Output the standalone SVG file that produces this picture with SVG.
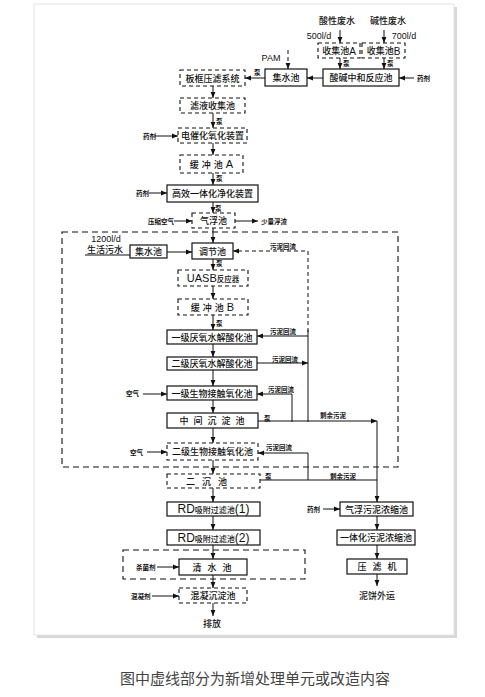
<svg xmlns="http://www.w3.org/2000/svg" width="485" height="697" viewBox="0 0 485 697">
<defs>
<marker id="ah" viewBox="0 0 10 10" refX="10" refY="5" markerWidth="6" markerHeight="6" markerUnits="userSpaceOnUse" orient="auto"><path d="M0,1 L10,5 L0,9 z" fill="#111"/></marker>
<style>
.b{fill:#fff;stroke:#111;stroke-width:1.2}
.d{fill:#fff;stroke:#111;stroke-width:1.1;stroke-dasharray:4,3}
.t{font-family:"Noto Sans CJK SC","Noto Sans CJK JP",sans-serif;font-size:9px;text-anchor:middle;dominant-baseline:central;fill:#111;font-weight:500}
.l{font-family:"Liberation Sans",Arial,sans-serif;font-weight:normal}
.s{font-family:"Noto Sans CJK SC","Noto Sans CJK JP",sans-serif;font-size:6.5px;dominant-baseline:central;fill:#111;font-weight:bold}
.c{stroke:#111;stroke-width:1;fill:none}
.ca{stroke:#111;stroke-width:1;fill:none;marker-end:url(#ah)}
.cd{stroke:#111;stroke-width:1;fill:none;stroke-dasharray:4,3}
</style>
</defs>
<rect x="0" y="0" width="485" height="697" fill="#fff"/>
<rect x="37" y="7" width="420" height="631" fill="#d8d8d8"/>
<rect x="34" y="4" width="420" height="631" fill="#fff" stroke="#e4e4e4"/>

<!-- region outlines -->
<rect x="62" y="232" width="336" height="235" fill="none" stroke="#111" stroke-width="1.1" stroke-dasharray="6,4"/>
<rect x="123" y="550" width="182" height="29" fill="none" stroke="#111" stroke-width="1.1" stroke-dasharray="6,4"/>

<g id="connectors">
<line class="ca" x1="340" y1="30" x2="340" y2="43"/>
<line class="ca" x1="384" y1="30" x2="384" y2="43"/>
<line class="ca" x1="340" y1="58" x2="340" y2="69"/>
<line class="ca" x1="384" y1="58" x2="384" y2="69"/>
<line class="ca" x1="414" y1="78" x2="399" y2="78"/>
<line class="ca" x1="323" y1="78" x2="307" y2="78"/>
<line class="cd" x1="288" y1="50" x2="288" y2="64"/>
<line class="ca" x1="288" y1="64" x2="288" y2="69"/>
<line class="ca" x1="265" y1="78" x2="245" y2="78"/>
<line class="ca" x1="213" y1="86" x2="213" y2="98"/>
<line class="ca" x1="213" y1="113" x2="213" y2="128"/>
<line class="ca" x1="155" y1="136" x2="178" y2="136"/>
<line class="ca" x1="213" y1="143" x2="213" y2="155"/>
<line class="ca" x1="213" y1="173" x2="213" y2="185"/>
<line class="ca" x1="149" y1="193" x2="167" y2="193"/>
<line class="ca" x1="213" y1="202" x2="213" y2="213"/>
<line class="ca" x1="174" y1="221" x2="192" y2="221"/>
<line class="ca" x1="235" y1="221" x2="258" y2="221"/>
<line class="ca" x1="213" y1="228" x2="213" y2="243"/>
<line class="c" x1="85" y1="255" x2="130" y2="255"/>
<line class="ca" x1="167" y1="252" x2="192" y2="252"/>
<polyline class="cd" points="308,332 308,251 240,251"/>
<line class="ca" x1="240" y1="251" x2="233" y2="251"/>
<line class="ca" x1="213" y1="259" x2="213" y2="270"/>
<line class="ca" x1="213" y1="286" x2="213" y2="299"/>
<line class="ca" x1="213" y1="315" x2="213" y2="330"/>
<line class="ca" x1="213" y1="344" x2="213" y2="357"/>
<line class="ca" x1="213" y1="370" x2="213" y2="386"/>
<line class="ca" x1="213" y1="400" x2="213" y2="413"/>
<line class="ca" x1="213" y1="428" x2="213" y2="443"/>
<line class="ca" x1="213" y1="460" x2="213" y2="474"/>
<line class="ca" x1="213" y1="488" x2="213" y2="502"/>
<line class="ca" x1="213" y1="516" x2="213" y2="530"/>
<line class="ca" x1="213" y1="545" x2="213" y2="559"/>
<line class="ca" x1="213" y1="575" x2="213" y2="588"/>
<line class="ca" x1="213" y1="603" x2="213" y2="616"/>
<line class="ca" x1="143" y1="394" x2="167" y2="394"/>
<line class="ca" x1="147" y1="452" x2="167" y2="452"/>
<line class="ca" x1="157" y1="567" x2="179" y2="567"/>
<line class="ca" x1="152" y1="596" x2="179" y2="596"/>
<line class="c" x1="308" y1="330" x2="308" y2="422"/>
<line class="ca" x1="308" y1="336" x2="257" y2="336"/>
<line class="ca" x1="257" y1="363" x2="308" y2="363"/>
<polyline class="ca" points="292,422 292,394 257,394"/>
<line class="ca" x1="258" y1="421" x2="377" y2="421"/>
<line class="ca" x1="377" y1="421" x2="377" y2="502"/>
<line class="c" x1="260" y1="480" x2="377" y2="480"/>
<polyline class="ca" points="308,480 308,453 258,453"/>
<line class="ca" x1="323" y1="509" x2="340" y2="509"/>
<line class="ca" x1="377" y1="516" x2="377" y2="530"/>
<line class="ca" x1="377" y1="545" x2="377" y2="559"/>
<line class="ca" x1="377" y1="574" x2="377" y2="586"/>
</g>

<g id="labels">
<text class="t" x="337" y="20">酸性废水</text>
<text class="t" x="388" y="20">碱性废水</text>
<text class="t l" x="319" y="36" font-size="9">500l/d</text>
<text class="t l" x="404" y="36" font-size="9">700l/d</text>
<text class="t l" x="271" y="58" font-size="7.5">PAM</text>
<text class="s" x="343" y="63">泵</text>
<text class="s" x="387" y="63">泵</text>
<text class="s" x="417" y="78">药剂</text>
<text class="s" x="254" y="72">泵</text>
<text class="s" x="216" y="121">泵</text>
<text class="s" x="143" y="136">药剂</text>
<text class="s" x="216" y="178">泵</text>
<text class="s" x="136" y="193">药剂</text>
<text class="s" x="215" y="208">泵</text>
<text class="s" x="148" y="221">压缩空气</text>
<text class="s" x="261" y="221">少量浮渣</text>
<text class="t l" x="106" y="239" font-size="9">1200l/d</text>
<text class="t" x="105" y="249">生活污水</text>
<text class="s" x="270" y="246">污泥回流</text>
<text class="s" x="216" y="263">泵</text>
<text class="s" x="216" y="323">泵</text>
<text class="s" x="270" y="331">污泥回流</text>
<text class="s" x="272" y="359">污泥回流</text>
<text class="s" x="126" y="393">空气</text>
<text class="s" x="268" y="389">污泥回流</text>
<text class="s" x="264" y="418">泵</text>
<text class="s" x="320" y="415">剩余污泥</text>
<text class="s" x="130" y="452">空气</text>
<text class="s" x="266" y="447">污泥回流</text>
<text class="s" x="265" y="476">泵</text>
<text class="s" x="330" y="476">剩余污泥</text>
<text class="s" x="307" y="509">药剂</text>
<text class="s" x="136" y="567">杀菌剂</text>
<text class="s" x="131" y="596">混凝剂</text>
<text class="t" x="377" y="595" font-size="9">泥饼外运</text>
<text class="t" x="212" y="623" font-size="9">排放</text>
</g>

<g id="n_collA"><rect class="d" x="318" y="43" width="42" height="15"/><text class="t" x="339" y="50.5">收集池<tspan class="l" font-size="10">A</tspan></text></g>
<g id="n_collB"><rect class="d" x="362" y="43" width="43" height="15"/><text class="t" x="383.5" y="50.5">收集池<tspan class="l" font-size="10">B</tspan></text></g>
<g id="n_neut"><rect class="b" x="323" y="69" width="76" height="17"/><text class="t" x="361" y="77.5">酸碱中和反应池</text></g>
<g id="n_sump1"><rect class="b" x="265" y="69" width="42" height="17"/><text class="t" x="286" y="77.5">集水池</text></g>
<g id="n_press"><rect class="d" x="180" y="70" width="65" height="16"/><text class="t" x="212.5" y="78">板框压滤系统</text></g>
<g id="n_filtrate"><rect class="d" x="180" y="98" width="65" height="15"/><text class="t" x="212.5" y="105.5">滤液收集池</text></g>
<g id="n_electro"><rect class="d" x="178" y="128" width="69" height="15"/><text class="t" x="212.5" y="135.5" font-size="8.5">电催化氧化装置</text></g>
<g id="n_bufA"><rect class="d" x="180" y="155" width="63" height="18"/><text class="t" x="213" y="164" letter-spacing="3">缓冲池<tspan class="l" font-size="11">A</tspan></text></g>
<g id="n_hiEff"><rect class="b" x="167" y="185" width="91" height="17"/><text class="t" x="212.5" y="193.5">高效一体化净化装置</text></g>
<g id="n_float"><rect class="d" x="192" y="213" width="43" height="15"/><text class="t" x="213.5" y="220.5">气浮池</text></g>
<g id="n_sump2"><rect class="b" x="130" y="245" width="37" height="13"/><text class="t" x="148.5" y="251.5">集水池</text></g>
<g id="n_adjust"><rect class="b" x="192" y="243" width="41" height="16"/><text class="t" x="212.5" y="251">调节池</text></g>
<g id="n_uasb"><rect class="d" x="178" y="270" width="70" height="16"/><text class="t" x="213" y="278"><tspan class="l" font-size="11">UASB</tspan><tspan font-size="7.5">反应器</tspan></text></g>
<g id="n_bufB"><rect class="d" x="178" y="299" width="70" height="16"/><text class="t" x="214" y="307" letter-spacing="3">缓冲池<tspan class="l" font-size="11">B</tspan></text></g>
<g id="n_anaer1"><rect class="b" x="167" y="330" width="90" height="14"/><text class="t" x="212" y="337">一级厌氧水解酸化池</text></g>
<g id="n_anaer2"><rect class="b" x="167" y="357" width="90" height="13"/><text class="t" x="212" y="363.5">二级厌氧水解酸化池</text></g>
<g id="n_bio1"><rect class="b" x="167" y="386" width="90" height="14"/><text class="t" x="212" y="393">一级生物接触氧化池</text></g>
<g id="n_midSettle"><rect class="b" x="167" y="413" width="91" height="15"/><text class="t" x="214.5" y="420.5" letter-spacing="5">中间沉淀池</text></g>
<g id="n_bio2"><rect class="d" x="167" y="443" width="91" height="17"/><text class="t" x="212.5" y="451.5">二级生物接触氧化池</text></g>
<g id="n_sec"><rect class="d" x="167" y="474" width="93" height="14"/><text class="t" x="210" y="481" letter-spacing="7">二沉池</text></g>
<g id="n_rd1"><rect class="b" x="167" y="502" width="93" height="14"/><text class="t" x="213.5" y="509"><tspan class="l" font-size="12">RD</tspan><tspan font-size="8">吸附过滤池</tspan><tspan class="l" font-size="12">(1)</tspan></text></g>
<g id="n_rd2"><rect class="b" x="167" y="530" width="93" height="15"/><text class="t" x="213.5" y="537.5"><tspan class="l" font-size="12">RD</tspan><tspan font-size="8">吸附过滤池</tspan><tspan class="l" font-size="12">(2)</tspan></text></g>
<g id="n_clear"><rect class="b" x="179" y="559" width="68" height="16"/><text class="t" x="215" y="567" letter-spacing="6">清水池</text></g>
<g id="n_coag"><rect class="d" x="179" y="588" width="68" height="15"/><text class="t" x="213" y="595.5">混凝沉淀池</text></g>
<g id="n_fthick"><rect class="b" x="340" y="502" width="73" height="14"/><text class="t" x="376.5" y="509">气浮污泥浓缩池</text></g>
<g id="n_ithick"><rect class="b" x="337" y="530" width="78" height="15"/><text class="t" x="376" y="537.5" font-size="8.5">一体化污泥浓缩池</text></g>
<g id="n_filterPress"><rect class="b" x="347" y="559" width="60" height="15"/><text class="t" x="380" y="566.5" letter-spacing="6">压滤机</text></g>

<text x="255" y="684" font-family="'Noto Sans CJK SC','Noto Sans CJK JP',sans-serif" font-size="15" fill="#444" text-anchor="middle">图中虚线部分为新增处理单元或改造内容</text>
</svg>
